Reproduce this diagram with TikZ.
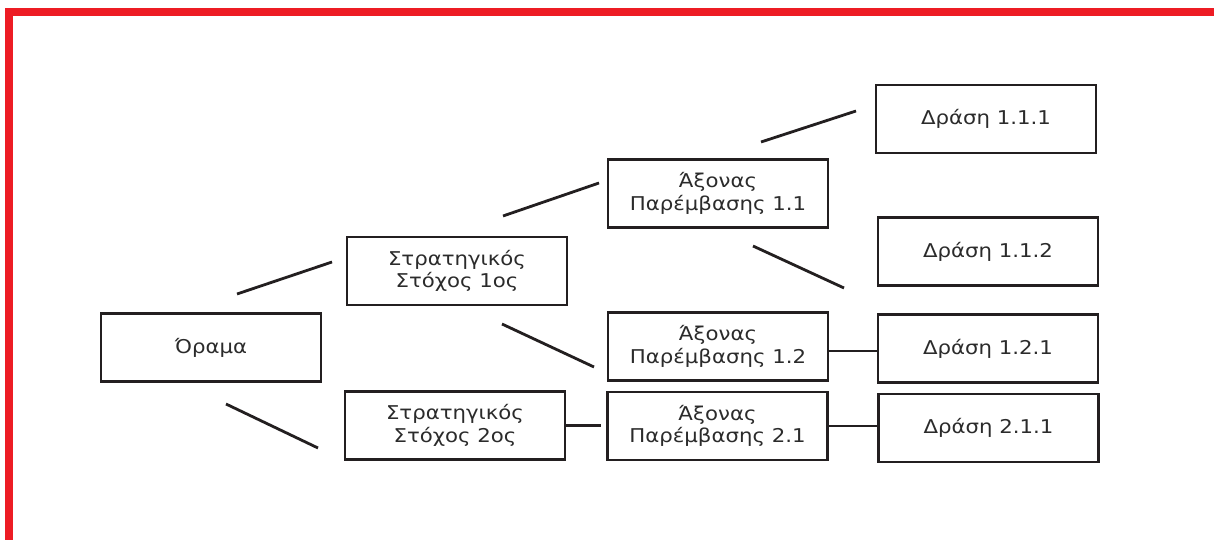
\documentclass[tikz,border=0pt]{standalone}
\usepackage{fontspec}
\setmainfont{DejaVu Sans}[FakeStretch=1.12]
\definecolor{redbar}{HTML}{ED1C24}
\definecolor{ink}{HTML}{231F20}
\definecolor{txt}{HTML}{2B2B2B}
\begin{document}
\begin{tikzpicture}[x=1pt,y=-1pt,
  box/.style={draw=ink,line width=2.6pt,minimum width=220pt,minimum height=68pt,
    inner sep=0pt,align=center,text=txt,font=\fontsize{19}{22.5}\selectfont},
  conn/.style={draw=ink,line width=2.8pt}]
\useasboundingbox[fill=white] (0,0) rectangle (1214,540);
\fill[redbar] (5,8) rectangle (1214,16);
\fill[redbar] (5,8) rectangle (13,540);
% nodes
\node[box] (orama) at (211,347.5) {Όραμα};
\node[box] (ss1) at (457,271) {Στρατηγικός\\Στόχος 1ος};
\node[box] (ss2) at (455,425.5) {Στρατηγικός\\Στόχος 2ος};
\node[box] (a11) at (718,193.5) {Άξονας\\Παρέμβασης 1.1};
\node[box] (a12) at (718,346.5) {Άξονας\\Παρέμβασης 1.2};
\node[box] (a21) at (717.5,426) {Άξονας\\Παρέμβασης 2.1};
\node[box] (d111) at (986,119) {Δράση 1.1.1};
\node[box] (d112) at (988,251.5) {Δράση 1.1.2};
\node[box] (d121) at (988,348.5) {Δράση 1.2.1};
\node[box] (d211) at (988.5,428) {Δράση 2.1.1};
% free-standing connector ends
\coordinate (c1a) at (237,294); \coordinate (c1b) at (332,262);
\coordinate (c2a) at (226,404); \coordinate (c2b) at (318,448);
\coordinate (c3a) at (503,216); \coordinate (c3b) at (599,183);
\coordinate (c4a) at (502,324); \coordinate (c4b) at (594,367);
\coordinate (c5a) at (761,142); \coordinate (c5b) at (856,111);
\coordinate (c6a) at (753,246); \coordinate (c6b) at (844,288);
\draw[conn] (c1a) -- (c1b);
\draw[conn] (c2a) -- (c2b);
\draw[conn] (c3a) -- (c3b);
\draw[conn] (c4a) -- (c4b);
\draw[conn] (c5a) -- (c5b);
\draw[conn] (c6a) -- (c6b);
\draw[conn] ([yshift=-4.5pt]a12.east) -- ([yshift=-4.5pt]a12.east -| d121.west);
\draw[conn] (a21.east) -- (a21.east -| d211.west);
\draw[conn,shorten >=5pt] (ss2.east) -- (ss2.east -| a21.west);
\end{tikzpicture}
\end{document}
